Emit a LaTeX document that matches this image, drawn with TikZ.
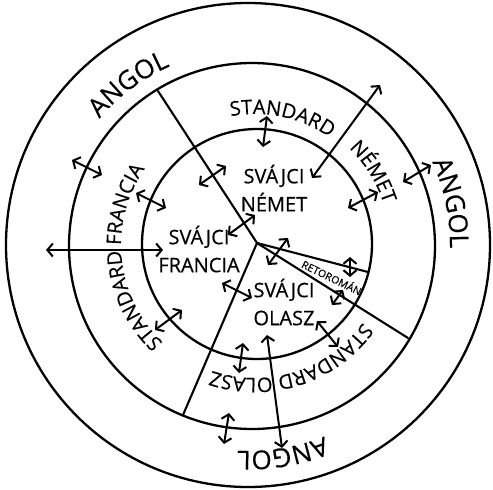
\documentclass[tikz,border=0pt]{standalone}
\usepackage{fontspec}
\setmainfont{Open Sans}[FakeBold=0.4]
\usetikzlibrary{arrows.meta,decorations.text}
\newcommand\bigfont{\fontsize{26}{30}\selectfont}
\newcommand\midfont{\fontsize{20}{28}\selectfont}
\newcommand\smallfont{\fontsize{10.5}{12}\selectfont}

\begin{document}
\begin{tikzpicture}[x=1pt, y=-1pt, line cap=round,
  >={Straight Barb[length=5.5pt,width=13pt]},
  ring/.style={line width=2.3pt},
  border/.style={line width=2.1pt},
  link/.style={<->, line width=2pt},
  lang/.style={font=\midfont, align=center, inner sep=0pt},
  arclabel/.style={decorate, decoration={text along path, text align=center, text={#1}}}]
\useasboundingbox (0,0) rectangle (493,490);
% ---------- kor alakzatok ----------
\coordinate (cO) at (248,245);
\coordinate (cM) at (252,246);
\coordinate (cI) at (257,244);
\coordinate (cT) at (255,245);
\coordinate (hub) at (257,243);
\draw[ring] (cO) circle[radius=242];
\draw[ring] (cM) circle[radius=183];
\draw[ring] (cI) circle[radius=115];
% hatarvonalak
\draw[border] (hub) -- (158,91);
\draw[border] (hub) -- (183,415);
\draw[border] (hub) -- (368,272);
\draw[border] (hub) -- (408,338);
% ---------- kulso gyuru: ANGOL ----------
\path[arclabel=|\bigfont|ANGOL] (cO) ++(-166.6:195) arc[start angle=-166.6, end angle=-86.6, radius=195];
\path[arclabel=|\bigfont|ANGOL] (cO) ++(-51.7:202) arc[start angle=-51.7, end angle=28.3, radius=202];
\path[arclabel=|\bigfont|ANGOL] (cO) ++(40.6:206) arc[start angle=40.6, end angle=120.6, radius=206];
% ---------- kozepso gyuru: standard nyelvek ----------
\path[arclabel=|\midfont|STANDARD] (cT) ++(-137.9:131) arc[start angle=-137.9, end angle=-17.9, radius=131];
\path[arclabel=|\midfont|NÉMET] (cT) ++(-71.8:135) arc[start angle=-71.8, end angle=8.2, radius=135];
\path[arclabel=|\midfont|STANDARD FRANCIA] (cT) ++(104:134) arc[start angle=104, end angle=244, radius=134];
\path[arclabel=|\midfont|STANDARD OLASZ] (cT) ++(2.3:133) arc[start angle=2.3, end angle=142.3, radius=133];
% ---------- belso kor: svajci valtozatok ----------
\node[lang] (svnemet) at (274,188) {SVÁJCI\\NÉMET};
\node[lang] (svfrancia) at (199,249) {SVÁJCI\\FRANCIA};
\node[lang] (svolasz) at (284,302) {SVÁJCI\\OLASZ};
\node[font=\smallfont, inner sep=0pt, rotate=-26] (retoroman) at (332,277) {RETOROMÁN};
% ---------- kapcsolatok ----------
\foreach \xa/\ya/\xb/\yb in {72/160/102/175, 136/193/166/208, 199/185/226/166,
  255/215/228/235, 46/250/163/250, 155/330/182/310, 222/283/252/298,
  243/343/239/373, 229/413/224/444, 267/335/282/448, 317/321/338/347,
  343/290/332/305, 350/257/350/277, 268/265/288/238, 348/208/378/192,
  403/182/431/165, 312/178/380/85, 267/116/263/147}
  \draw[link] (\xa,\ya) -- (\xb,\yb);
\end{tikzpicture}
\end{document}
